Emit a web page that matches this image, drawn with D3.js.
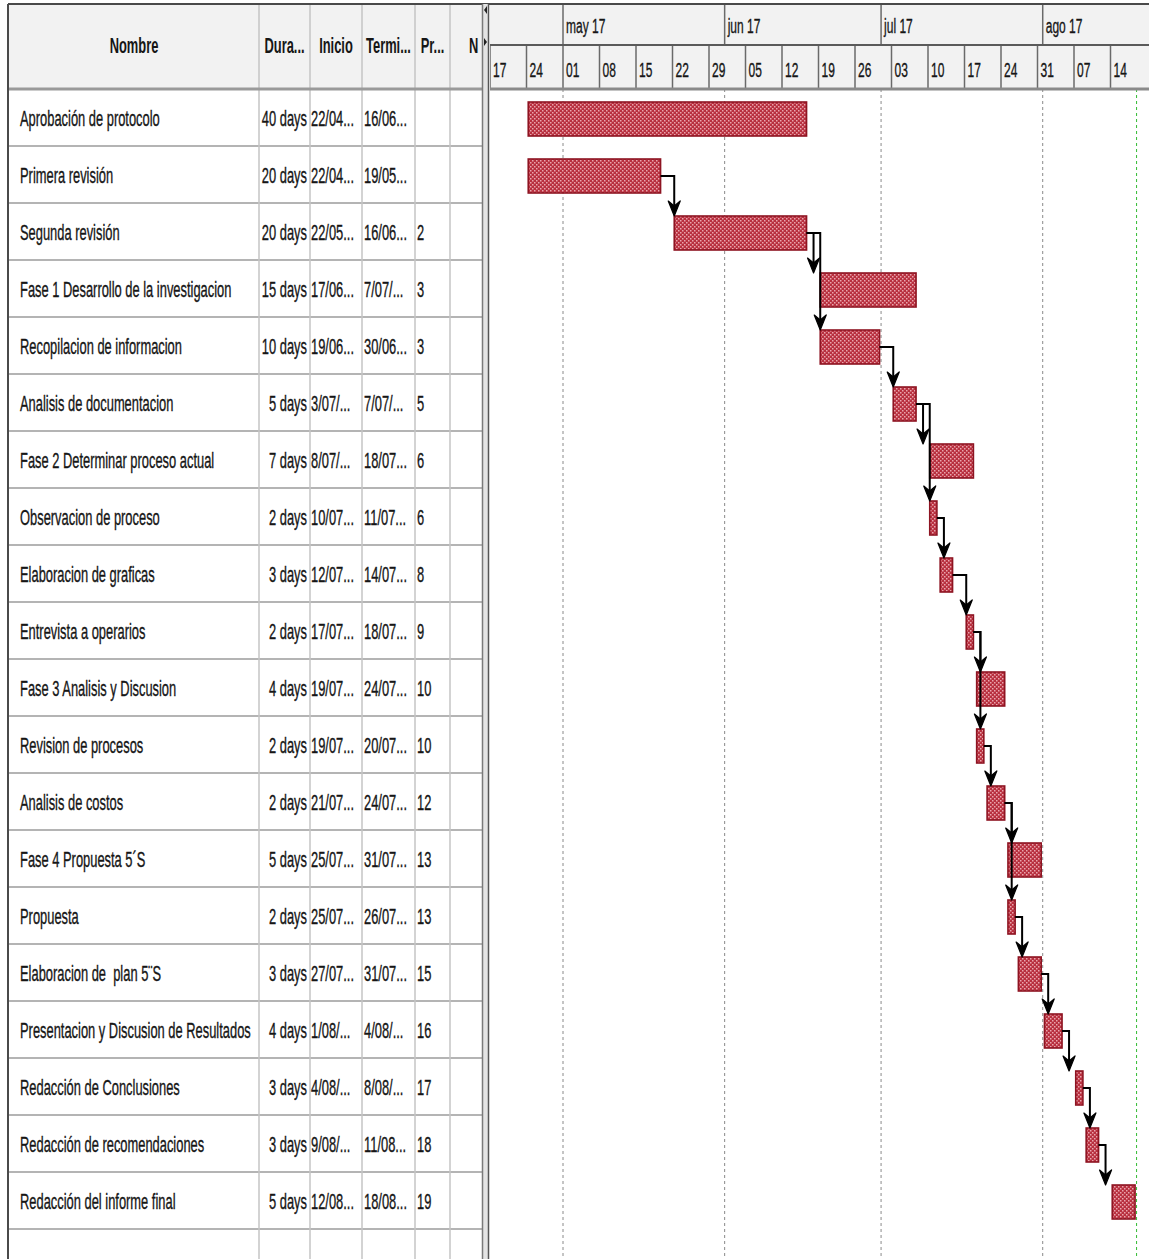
<!DOCTYPE html>
<html>
<head>
<meta charset="utf-8">
<script src="https://cdn.jsdelivr.net/npm/d3@7"></script>
<style>
  html, body { margin: 0; padding: 0; background: #ffffff; }
  svg { display: block; }
  text { font-family: "Liberation Sans", Arial, sans-serif; fill: #161616; white-space: pre; }
</style>
</head>
<body>
<svg id="chart" width="1149" height="1259"></svg>
<script>
// ---------------- DATA ----------------
const columnHeaders = ["Nombre", "Dura...", "Inicio", "Termi...", "Pr...", "N"];

const taskNames = [
  "Aprobación de protocolo",
  "Primera revisión",
  "Segunda revisión",
  "Fase 1 Desarrollo de la investigacion",
  "Recopilacion de informacion",
  "Analisis de documentacion",
  "Fase 2 Determinar proceso actual",
  "Observacion de proceso",
  "Elaboracion de graficas",
  "Entrevista a operarios",
  "Fase 3 Analisis y Discusion",
  "Revision de procesos",
  "Analisis de costos",
  "Fase 4 Propuesta 5´S",
  "Propuesta",
  "Elaboracion de  plan 5¨S",
  "Presentacion y Discusion de Resultados",
  "Redacción de Conclusiones",
  "Redacción de recomendaciones",
  "Redacción del informe final"
];

const durationLabels = ["40 days","20 days","20 days","15 days","10 days","5 days","7 days","2 days","3 days","2 days",
  "4 days","2 days","2 days","5 days","2 days","3 days","4 days","3 days","3 days","5 days"];

const startLabels = ["22/04...","22/04...","22/05...","17/06...","19/06...","3/07/...","8/07/...","10/07...","12/07...","17/07...",
  "19/07...","19/07...","21/07...","25/07...","25/07...","27/07...","1/08/...","4/08/...","9/08/...","12/08..."];

const endLabels = ["16/06...","19/05...","16/06...","7/07/...","30/06...","7/07/...","18/07...","11/07...","14/07...","18/07...",
  "24/07...","20/07...","24/07...","31/07...","26/07...","31/07...","4/08/...","8/08/...","11/08...","18/08..."];

const predecessorLabels = ["","","2","3","3","5","6","6","8","9","10","10","12","13","13","15","16","17","18","19"];

// scheduled start / finish (date + working hour)
const scheduledStart = [
  "2017-04-22 08:00","2017-04-22 08:00","2017-05-22 08:00","2017-06-17 08:00","2017-06-19 08:00",
  "2017-07-03 08:00","2017-07-08 08:00","2017-07-10 08:00","2017-07-12 08:00","2017-07-17 08:00",
  "2017-07-19 08:00","2017-07-19 08:00","2017-07-21 08:00","2017-07-25 08:00","2017-07-25 08:00",
  "2017-07-27 08:00","2017-08-01 08:00","2017-08-04 17:00","2017-08-09 08:00","2017-08-12 08:00"
];
const scheduledFinish = [
  "2017-06-16 17:00","2017-05-19 17:00","2017-06-16 17:00","2017-07-07 17:00","2017-06-30 17:00",
  "2017-07-07 17:00","2017-07-18 17:00","2017-07-11 17:00","2017-07-14 17:00","2017-07-18 17:00",
  "2017-07-24 17:00","2017-07-20 17:00","2017-07-24 17:00","2017-07-31 17:00","2017-07-26 17:00",
  "2017-07-31 17:00","2017-08-04 17:00","2017-08-08 17:00","2017-08-11 17:00","2017-08-18 17:00"
];
// predecessor task number (1-based), 0 = none
const predecessors = [0,0,2,3,3,5,6,6,8,9,10,10,12,13,13,15,16,17,18,19];

const monthShortNames = ["ene","feb","mar","abr","may","jun","jul","ago","sep","oct","nov","dic"];
const timelineStart = "2017-04-17 00:00";
const timelineEnd   = "2017-08-21 00:00";
const projectFinish = "2017-08-19 00:00";

// ---------------- LAYOUT ----------------
const W = 1149, H = 1259;
const headerTop = 5, tierMid = 45, headerBottom = 89, rowH = 57;
const colX = [9, 259, 310, 362, 415, 450, 482];
const ganttLeft = 490, ganttRight = 1147;
const SX = 0.6;     // horizontal squeeze of the condensed UI font
const FS = 21.5;

const parse = d3.timeParse("%Y-%m-%d %H:%M");
const es = d3.timeFormatLocale({
  dateTime: "%x, %X", date: "%d/%m/%Y", time: "%-I:%M:%S %p", periods: ["AM","PM"],
  days: ["domingo","lunes","martes","miércoles","jueves","viernes","sábado"],
  shortDays: ["dom","lun","mar","mié","jue","vie","sáb"],
  months: ["enero","febrero","marzo","abril","mayo","junio","julio","agosto","septiembre","octubre","noviembre","diciembre"],
  shortMonths: monthShortNames
});

function toWorking(d) {
  let t = new Date(d);
  if (t.getHours() >= 17) { t = d3.timeDay.offset(d3.timeDay.floor(t), 1); t.setHours(8); }
  while (t.getDay() === 0 || t.getDay() === 6) { t = d3.timeDay.offset(d3.timeDay.floor(t), 1); t.setHours(8); }
  return t;
}

const tasks = taskNames.map((name, i) => ({
  i, name,
  dur: durationLabels[i], startL: startLabels[i], endL: endLabels[i], predL: predecessorLabels[i],
  sched: parse(scheduledStart[i]),
  barStart: toWorking(parse(scheduledStart[i])),
  end: parse(scheduledFinish[i]),
  pred: predecessors[i] - 1
}));

const x = d3.scaleTime().domain([parse(timelineStart), parse(timelineEnd)]).range([ganttLeft, ganttRight]);
const y = d3.scaleBand().domain(d3.range(tasks.length)).range([headerBottom, headerBottom + rowH * tasks.length]);

const svg = d3.select("#chart");
const defs = svg.append("defs");

// hatch pattern for bars
const pat = defs.append("pattern").attr("id", "hatch").attr("patternUnits", "userSpaceOnUse")
  .attr("width", 4).attr("height", 4);
pat.append("rect").attr("width", 4).attr("height", 4).attr("fill", "#b8303f");
pat.append("rect").attr("x", 0).attr("y", 0).attr("width", 1.5).attr("height", 1.5).attr("fill", "#eaa6ae");
pat.append("rect").attr("x", 2).attr("y", 2).attr("width", 1.5).attr("height", 1.5).attr("fill", "#eaa6ae");

defs.append("clipPath").attr("id", "clipN").append("rect")
  .attr("x", colX[5]).attr("y", 0).attr("width", colX[6] - colX[5]).attr("height", H);
defs.append("clipPath").attr("id", "clipGantt").append("rect")
  .attr("x", ganttLeft).attr("y", 0).attr("width", W - ganttLeft).attr("height", H);

svg.append("rect").attr("width", W).attr("height", H).attr("fill", "#ffffff");

function sText(g, str, tx, ty, anchor, opts = {}) {
  return g.append("text")
    .attr("transform", `translate(${tx},${ty}) scale(${opts.sx || SX},1)`)
    .attr("text-anchor", anchor)
    .attr("font-size", opts.fs || FS)
    .attr("font-weight", opts.bold ? "bold" : "normal")
    .attr("stroke", opts.bold ? "none" : "#161616")
    .attr("stroke-width", opts.bold ? 0 : 0.35)
    .text(str);
}

// ---------------- TABLE ----------------
const table = svg.append("g");
table.append("rect").attr("x", colX[0]).attr("y", headerTop).attr("width", colX[6] - colX[0])
  .attr("height", headerBottom - headerTop).attr("fill", "#f2f2f2");

// row lines
table.selectAll("line.row").data(tasks).join("line")
  .attr("x1", colX[0]).attr("x2", colX[6])
  .attr("y1", d => y(d.i) + rowH).attr("y2", d => y(d.i) + rowH)
  .attr("stroke", "#b4b4b4").attr("stroke-width", 2);

// column lines
table.selectAll("line.col").data(colX.slice(1, 6)).join("line")
  .attr("x1", d => d).attr("x2", d => d).attr("y1", headerTop).attr("y2", H)
  .attr("stroke", "#c4c4c4").attr("stroke-width", 1.5);

// header bottom
table.append("line").attr("x1", colX[0]).attr("x2", colX[6]).attr("y1", headerBottom).attr("y2", headerBottom)
  .attr("stroke", "#9a9a9a").attr("stroke-width", 3);

// header texts
const hdrBase = 53;
columnHeaders.forEach((h, k) => {
  if (k === 5) {
    sText(table.append("g").attr("clip-path", "url(#clipN)"), h, 469, hdrBase, "start", { bold: true });
  } else {
    sText(table, h, (colX[k] + colX[k + 1]) / 2, hdrBase, "middle", { bold: true });
  }
});

// cells
tasks.forEach(d => {
  const base = y(d.i) + rowH / 2 + 8;
  sText(table, d.name, 20, base, "start");
  sText(table, d.dur, 307, base, "end");
  sText(table, d.startL, 311, base, "start");
  sText(table, d.endL, 364, base, "start");
  sText(table, d.predL, 417, base, "start");
});

// outer border
svg.append("line").attr("x1", 8).attr("x2", W).attr("y1", 4).attr("y2", 4).attr("stroke", "#4a4a4a").attr("stroke-width", 2);
svg.append("line").attr("x1", 8).attr("x2", 8).attr("y1", 4).attr("y2", H).attr("stroke", "#4a4a4a").attr("stroke-width", 2);

// splitter
svg.append("rect").attr("x", 482).attr("y", 4).attr("width", 7).attr("height", H - 4).attr("fill", "#e4e4e4");
svg.append("line").attr("x1", 482.5).attr("x2", 482.5).attr("y1", 4).attr("y2", H).attr("stroke", "#7a7a7a").attr("stroke-width", 1.5);
svg.append("line").attr("x1", 488.5).attr("x2", 488.5).attr("y1", 4).attr("y2", H).attr("stroke", "#555").attr("stroke-width", 1.5);
svg.append("path").attr("d", "M484,10 L487,6 L487,14 Z").attr("fill", "#222");
svg.append("path").attr("d", "M487,42 L484,38 L484,46 Z").attr("fill", "#222");

// ---------------- GANTT ----------------
const gantt = svg.append("g").attr("clip-path", "url(#clipGantt)");
gantt.append("rect").attr("x", ganttLeft).attr("y", headerTop).attr("width", W - ganttLeft)
  .attr("height", headerBottom - headerTop).attr("fill", "#f2f2f2");

const months = d3.timeMonth.range(...x.domain());
const weeks = d3.timeMonday.range(x.domain()[0], x.domain()[1]);
const fmtMonth = es.format("%b %y");
const fmtWeek = d3.timeFormat("%d");

// body grid: month dashed lines
gantt.selectAll("line.mgrid").data(months).join("line")
  .attr("x1", d => x(d)).attr("x2", d => x(d)).attr("y1", headerBottom).attr("y2", H)
  .attr("stroke", "#8a8a8a").attr("stroke-width", 1).attr("stroke-dasharray", "3,3");
gantt.append("line")
  .attr("x1", x(parse(projectFinish))).attr("x2", x(parse(projectFinish)))
  .attr("y1", headerBottom).attr("y2", H)
  .attr("stroke", "#33bb33").attr("stroke-width", 1).attr("stroke-dasharray", "3,3");

// header tiers
gantt.selectAll("line.mtick").data(months).join("line")
  .attr("x1", d => x(d)).attr("x2", d => x(d)).attr("y1", headerTop).attr("y2", tierMid)
  .attr("stroke", "#6a6a6a").attr("stroke-width", 1.5);
months.forEach(m => sText(gantt, fmtMonth(m), x(m) + 3, 33, "start", { fs: 20 }));

gantt.selectAll("line.wtick").data(weeks).join("line")
  .attr("x1", d => x(d)).attr("x2", d => x(d)).attr("y1", tierMid).attr("y2", headerBottom)
  .attr("stroke", "#6a6a6a").attr("stroke-width", 1.5);
weeks.forEach(w => sText(gantt, fmtWeek(w), x(w) + 3, 77, "start", { fs: 20 }));

gantt.append("line").attr("x1", ganttLeft).attr("x2", W).attr("y1", tierMid).attr("y2", tierMid)
  .attr("stroke", "#5a5a5a").attr("stroke-width", 2);
gantt.append("line").attr("x1", ganttLeft).attr("x2", W).attr("y1", headerBottom).attr("y2", headerBottom)
  .attr("stroke", "#8a8a8a").attr("stroke-width", 3);

// bars
const barOff = 13, barH = 34;
gantt.selectAll("rect.bar").data(tasks).join("rect")
  .attr("x", d => x(d.barStart)).attr("width", d => x(d.end) - x(d.barStart))
  .attr("y", d => y(d.i) + barOff).attr("height", barH)
  .attr("fill", "url(#hatch)").attr("stroke", "#8e1422").attr("stroke-width", 1.6);

// dependency arrows
const links = tasks.filter(d => d.pred >= 0);
const arrows = gantt.append("g");
links.forEach(d => {
  const p = tasks[d.pred];
  const x0 = x(p.end);
  const y0 = y(p.i) + barOff + barH / 2;
  const xa = Math.max(x(d.sched), x0 + 7);
  const yt = y(d.i) + barOff;
  arrows.append("path")
    .attr("d", `M${x0},${y0} H${xa} V${yt - 10}`)
    .attr("fill", "none").attr("stroke", "#000").attr("stroke-width", 2);
  arrows.append("path")
    .attr("d", `M${xa},${yt} L${xa - 6},${yt - 15} L${xa},${yt - 10} L${xa + 6},${yt - 15} Z`)
    .attr("fill", "#000").attr("stroke", "#000").attr("stroke-width", 1.2).attr("stroke-linejoin", "round");
});
</script>
</body>
</html>
